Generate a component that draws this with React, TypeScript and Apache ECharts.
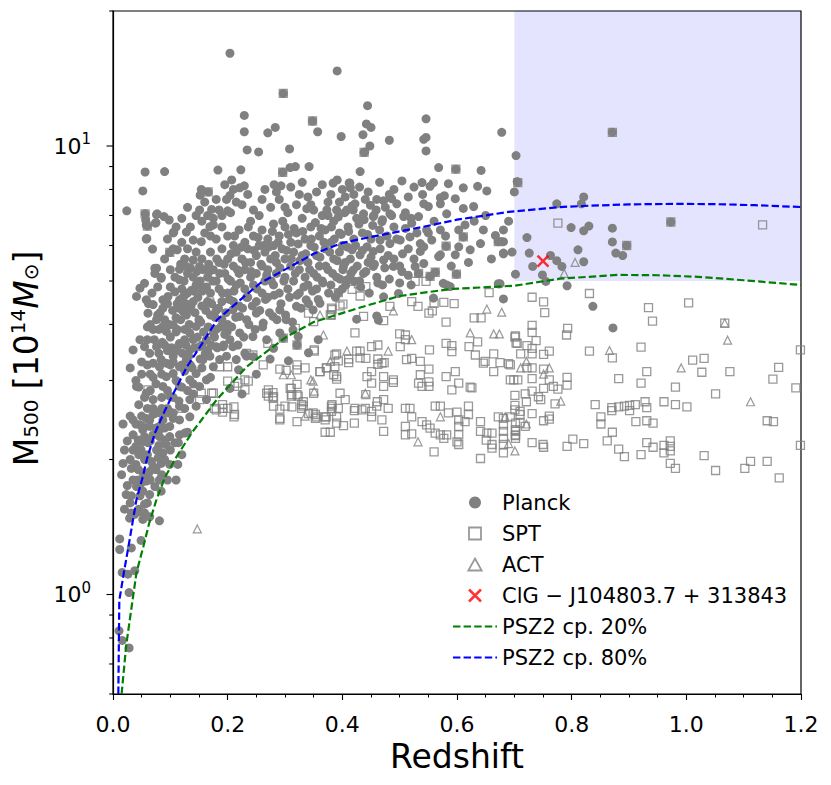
import React, { useEffect, useRef } from 'react';
import * as echarts from 'echarts';

// Planck clusters: [redshift, M500 (1e14 Msun)]
const planck: number[][] = [
  [0.204,16.1],[0.391,14.7],[0.297,13.1],[0.229,11.7],[0.229,10.76],[0.348,11.37],[0.283,11.0],[0.27,10.7],[0.357,10.76],[0.398,10.5],
  [0.444,12.3],[0.442,11.2],[0.45,11.0],[0.436,10.6],[0.234,9.8],[0.254,9.7],[0.308,9.85],[0.448,10.0],[0.439,9.7],[0.431,8.77],
  [0.056,8.75],[0.09,8.77],[0.052,7.94],[0.024,7.17],[0.183,8.84],[0.223,8.85],[0.207,8.4],[0.296,8.74],[0.309,8.95],[0.318,9.0],
  [0.342,9.0],[0.391,8.4],[0.384,8.27],[0.413,8.27],[0.281,8.2],[0.293,8.15],[0.154,8.0],[0.152,7.77],[0.166,7.9],[0.221,8.07],
  [0.229,8.15],[0.204,7.76],[0.198,7.6],[0.056,7.06],[0.06,6.63],[0.057,6.84],[0.077,7.06],[0.075,6.75],[0.089,6.96],[0.098,6.84],
  [0.106,6.43],[0.128,6.43],[0.059,6.22],[0.069,5.89],[0.099,5.79],[0.112,5.87],[0.116,5.31],[0.073,5.34],[0.084,5.1],[0.151,7.2],
  [0.172,7.22],[0.2,7.17],
  [0.482,10.3],[0.546,9.75],[0.438,9.68],[0.568,8.95],[0.598,8.88],[0.642,8.82],[0.504,8.36],[0.539,8.29],[0.559,8.29],[0.553,8.13],
  [0.585,8.24],[0.54,7.8],[0.571,7.67],[0.578,7.75],[0.611,8.07],[0.636,8.13],[0.652,7.94],[0.703,9.52],[0.705,8.33],[0.7,7.9],
  [0.472,7.55],[0.486,7.63],[0.495,7.43],[0.482,7.8],[0.405,7.7],[0.412,8.27],[0.414,8.07],[0.422,7.43],[0.419,7.2],[0.408,7.2],
  [0.449,7.38],[0.437,7.06],[0.454,6.96],[0.469,6.78],[0.483,7.06],[0.507,6.96],[0.521,6.73],[0.533,6.96],[0.542,7.43],[0.55,7.33],
  [0.571,7.43],[0.582,7.06],[0.597,7.63],[0.611,7.26],[0.629,7.33],[0.547,6.5],[0.571,6.5],[0.603,6.5],[0.614,6.67],[0.646,6.5],
  [0.667,6.32],[0.672,6.12],[0.681,6.5],[0.681,6.12],[0.641,6.06],[0.623,5.87],[0.603,5.96],[0.611,6.27],[0.681,5.77],[0.696,5.8],
  [0.702,5.18],[0.597,5.72],[0.581,5.98],[0.571,5.72],[0.542,5.96],[0.536,5.82],[0.556,6.17],[0.55,6.4],[0.568,5.67],[0.542,5.47],
  [0.527,5.39],[0.533,5.2],[0.553,5.12],[0.562,5.23],[0.599,5.18],[0.504,5.25],[0.489,5.39],[0.472,5.57],[0.454,5.82],[0.443,5.96],
  [0.431,5.72],[0.417,5.87],[0.483,6.06],[0.501,6.17],[0.518,6.27],[0.536,6.06],[0.466,6.17],[0.454,5.39],[0.437,5.2],[0.419,5.29],
  [0.402,5.39],[0.408,5.03],[0.576,4.94],[0.588,4.86],[0.675,4.93],
  [0.678,10.73],[0.546,11.5],[0.542,10.35],[0.546,10.45],
  [0.706,8.29],[0.774,7.43],[0.821,7.7],[0.817,7.43],[0.799,6.58],[0.821,6.47],[0.83,6.63],[0.722,6.25],[0.681,5.75],[0.726,5.77],
  [0.732,5.39],[0.763,5.7],[0.774,5.55],[0.783,5.39],[0.811,5.87],[0.821,5.52],[0.749,5.16],[0.755,4.99],[0.792,4.88],[0.871,10.73],
  [0.973,6.77],[0.871,6.11],[0.871,6.56],[0.896,6.0],[0.877,5.77],[0.889,5.7],[0.837,4.39],[0.872,3.93],
  [0.393,4.71],[0.46,4.18],[0.463,4.09],[0.425,4.11],[0.323,3.76],[0.297,3.73],[0.28,3.54],[0.341,3.46],[0.358,3.7],[0.23,3.45],
  [0.245,3.39],[0.274,3.35],[0.306,3.32],[0.25,3.1],[0.219,3.17],[0.225,2.8],[0.204,2.88],[0.321,3.6],[0.472,4.61],[0.498,4.69],
  [0.559,4.58],[0.582,4.9],[0.672,4.93],[0.681,4.56],
  [0.209,4.31],[0.221,4.17],[0.233,4.1],[0.25,4.24],[0.262,4.03],[0.279,4.17],[0.291,4.31],[0.302,4.1],[0.32,4.39],[0.337,4.54],
  [0.349,4.31],[0.361,4.46],[0.314,3.89],[0.291,3.83],[0.268,3.7],[0.244,3.76],[0.221,3.83],[0.209,3.57],[0.198,3.4],[0.215,3.34],
  [0.233,3.4],
  [0.076,7.03],[0.074,6.73],[0.058,6.67],[0.105,6.4],[0.058,6.2],[0.14,6.17],[0.154,6.12],[0.169,6.61],[0.175,6.67],
  [0.076,5.34],[0.073,5.2],[0.084,5.07],[0.055,4.94],[0.047,4.82],[0.041,4.62],[0.058,4.54],[0.07,4.43],[0.087,4.35],[0.061,4.24],
  [0.076,4.1],[0.087,3.96],[0.093,3.86],[0.105,3.99],[0.11,4.14],[0.122,4.28],[0.116,4.54],[0.125,4.65],[0.137,4.77],[0.108,4.73],
  [0.096,4.62],[0.087,4.54],[0.116,5.03],[0.128,5.39],[0.14,5.57],[0.151,5.39],
  [0.035,3.51],[0.047,3.7],[0.055,3.57],[0.064,3.45],[0.076,3.57],[0.084,3.34],[0.093,3.28],[0.105,3.4],[0.116,3.63],[0.125,3.7],
  [0.134,3.83],[0.145,3.96],[0.14,3.7],[0.134,3.51],[0.128,3.34],[0.116,3.22],[0.105,3.11],[0.093,3.06],[0.081,3.22],[0.07,3.28],
  [0.041,2.91],[0.058,2.81],[0.07,2.72],[0.087,2.91],[0.099,2.77],[0.116,2.91],[0.134,3.01],[0.145,3.11],[0.157,3.34],[0.169,3.4],
  [0.175,3.22],[0.163,3.01],[0.151,2.91],[0.134,2.72],[0.116,2.63],[0.105,2.54],[0.087,2.45],[0.076,2.54],[0.064,2.45],[0.052,2.37],
  [0.081,2.33],[0.099,2.37],[0.116,2.45],[0.134,2.49],[0.145,2.63],[0.163,2.72],[0.186,3.34],[0.192,3.57],[0.204,3.7],[0.18,3.57],
  [0.151,3.57],[0.163,3.7],[0.175,3.83],
  [0.0175,2.4],[0.035,2.27],[0.044,2.21],[0.052,2.19],[0.061,2.18],[0.04,2.14],[0.049,2.1],[0.07,2.27],[0.081,2.25],[0.09,2.21],
  [0.099,2.25],[0.093,2.16],[0.108,2.18],[0.116,2.27],[0.125,2.29],[0.114,2.18],[0.076,2.1],[0.087,2.07],[0.079,2.02],[0.067,1.98],
  [0.055,2.0],[0.07,1.93],[0.084,1.96],[0.099,1.95],[0.113,1.95],[0.0175,1.96],[0.032,1.91],[0.044,1.9],[0.052,1.87],[0.061,1.84],
  [0.064,1.88],[0.044,1.8],[0.049,1.77],[0.058,1.79],[0.041,1.74],[0.073,1.74],[0.081,1.8],[0.084,1.7],[0.11,1.8],[0.023,1.67],
  [0.032,1.66],[0.047,1.66],[0.052,1.7],[0.064,1.67],[0.032,1.52],[0.038,1.51],[0.047,1.53],[0.055,1.52],[0.064,1.49],[0.052,1.47],
  [0.029,1.48],[0.081,1.46],[0.055,1.59],[0.0117,1.33],[0.0117,1.26],[0.032,1.27],[0.049,1.32],[0.016,1.12],[0.026,1.11],[0.038,1.13],
  [0.028,1.01],[0.0105,0.83],[0.016,0.79],[0.028,0.76],[0.035,2.45],[0.047,2.39],[0.058,2.47],[0.07,2.52],[0.084,2.54],[0.096,2.54],
  [0.105,2.47],[0.081,2.37],[0.064,2.37],[0.052,2.33],
  [0.15,4.9],[0.155,5.6],[0.16,4.4],[0.16,6.4],[0.165,5.1],[0.17,4.7],[0.17,5.8],[0.175,5.3],[0.175,6.9],[0.18,4.3],
  [0.18,5.0],[0.18,6.2],[0.185,5.5],[0.185,4.8],[0.19,5.9],[0.19,4.5],[0.19,6.6],[0.195,5.2],[0.2,4.7],[0.2,5.6],
  [0.2,6.3],[0.205,5.0],[0.205,7.1],[0.21,4.5],[0.21,5.4],[0.21,6.0],[0.215,5.8],[0.215,4.9],[0.22,5.2],[0.22,6.5],
  [0.22,4.4],[0.225,5.6],[0.225,7.4],[0.23,4.8],[0.23,5.3],[0.23,6.1],[0.235,5.9],[0.235,4.6],[0.24,5.1],[0.24,6.8],
  [0.24,5.5],[0.245,4.9],[0.245,6.3],[0.25,5.7],[0.25,4.5],[0.25,5.2],[0.255,6.0],[0.255,7.0],[0.26,5.4],[0.26,4.7],
  [0.26,6.5],[0.265,5.0],[0.265,5.8],[0.27,6.2],[0.27,4.6],[0.27,5.3],[0.275,7.3],[0.275,5.6],[0.28,4.9],[0.28,6.0],
  [0.28,6.7],[0.285,5.2],[0.285,5.5],[0.29,4.7],[0.29,6.3],[0.29,7.6],[0.295,5.9],[0.3,5.1],[0.3,5.6],[0.3,6.6],
  [0.305,4.8],[0.305,7.1],[0.31,5.4],[0.31,6.1],[0.315,5.0],[0.315,5.8],[0.32,6.4],[0.32,7.4],[0.325,5.3],[0.325,4.7],
  [0.33,5.7],[0.33,6.9],[0.335,5.1],[0.335,6.2],[0.34,4.9],[0.34,5.5],[0.34,7.7],[0.345,6.0],[0.345,6.6],[0.35,5.2],
  [0.35,7.2],[0.355,5.7],[0.355,4.8],[0.36,6.3],[0.36,5.4],[0.365,7.0],[0.365,5.0],[0.37,5.9],[0.37,6.5],[0.375,5.3],
  [0.375,7.5],[0.38,4.9],[0.38,6.1],[0.385,5.6],[0.385,6.8],[0.39,5.1],[0.39,7.2],[0.395,5.8],[0.395,6.4],[0.4,4.8],
  [0.4,6.0],[0.405,5.5],[0.41,6.6],[0.415,5.2],[0.42,6.2],[0.425,6.9],[0.43,5.0],[0.435,6.4],[0.44,7.6],[0.445,5.5],
  [0.45,6.2],[0.455,7.0],[0.46,5.1],[0.465,6.5],[0.47,4.9],[0.475,7.3],[0.48,5.7],[0.49,6.6],[0.5,5.4],[0.51,7.1],
  [0.515,5.9],[0.52,4.9],[0.53,6.4],[0.56,6.8],[0.58,6.3],[0.59,5.4],[0.62,5.5],[0.63,6.8],[0.65,7.0],[0.66,5.6],
  [0.69,6.8],
  [0.215,7.5],[0.235,7.8],[0.245,7.2],[0.26,7.6],[0.265,8.0],[0.285,7.9],[0.3,7.3],[0.31,8.1],[0.325,7.8],[0.33,8.3],
  [0.345,7.4],[0.355,7.9],[0.365,8.2],[0.375,7.0],[0.38,7.8],[0.395,7.5],[0.4,8.0],[0.42,7.8],[0.43,8.1],[0.445,7.9],
  [0.46,7.6],[0.465,8.3],[0.49,8.0],[0.515,7.7],[0.525,8.1],
  [0.12,6.9],[0.13,7.3],[0.135,6.6],[0.145,7.0],[0.16,7.5],[0.165,7.0],[0.18,7.6],[0.185,7.2],[0.19,7.0],[0.195,8.2],
  [0.21,8.0],[0.12,6.1],[0.13,5.9],[0.145,5.8],[0.155,6.8],[0.17,6.3],[0.11,6.6],[0.095,6.2],[0.09,5.6],[0.1,5.3],
  [0.105,5.9],[0.125,5.6],[0.13,5.2],[0.14,5.1],[0.12,4.8],[0.13,4.3],[0.14,4.5],[0.145,4.9],[0.15,4.1],[0.155,4.4],
  [0.165,4.5],[0.17,4.2],[0.18,3.9],[0.19,4.1],[0.195,3.8],[0.2,4.0],[0.155,3.6],[0.165,3.5],[0.125,3.9],[0.115,3.6],
  [0.1,3.75],[0.095,3.5],[0.08,3.9],[0.07,3.9],[0.065,4.0],[0.06,3.7],[0.05,3.3],[0.065,3.1],[0.075,2.95],[0.085,2.75],
  [0.095,2.6],[0.06,2.6],[0.045,2.65],[0.04,3.0],[0.03,3.2],[0.03,2.5],[0.025,2.2],[0.02,2.1],[0.015,1.85],[0.035,1.8],
  [0.1,2.1],[0.12,2.05],[0.13,2.3],[0.125,2.6],[0.14,2.95],[0.155,3.2],[0.17,3.05],
  [0.105,3.3],[0.11,3.5],[0.112,3.9],[0.118,4.1],[0.12,3.25],[0.122,4.6],[0.127,3.6],[0.128,4.2],[0.132,3.4],[0.133,4.0],
  [0.136,4.4],[0.138,3.2],[0.142,3.55],[0.143,4.25],[0.147,3.75],[0.148,4.6],[0.152,3.35],[0.153,4.05],[0.156,4.75],[0.158,3.85],
  [0.161,3.45],[0.162,4.3],[0.166,3.95],[0.167,5.45],[0.171,3.6],[0.172,4.45],[0.174,5.0],[0.177,3.75],[0.178,4.15],[0.181,5.6],
  [0.182,3.55],[0.184,4.35],[0.186,5.2],[0.188,3.95],[0.191,4.7],[0.193,3.6],[0.194,5.45],[0.197,4.25],[0.199,3.85],[0.201,5.05],
  [0.203,4.55],[0.206,5.75],[0.207,3.95],[0.211,4.75],[0.212,6.3],[0.214,4.15],[0.217,5.3],[0.218,3.6],[0.222,4.95],[0.224,5.95],
  [0.226,4.35],[0.228,3.75],[0.231,5.5],[0.233,4.6],[0.236,6.6],[0.237,4.0],[0.241,5.25],[0.243,4.4],[0.246,5.85],[0.248,3.9],
  [0.251,4.8],[0.253,6.25],[0.256,4.3],[0.258,5.45],[0.261,3.95],[0.263,6.0],[0.266,4.55],[0.268,5.15],[0.271,5.95],[0.273,4.25],
  [0.276,5.0],[0.278,6.45],[0.281,4.65],[0.283,5.7],[0.286,4.1],[0.288,6.1],[0.291,5.35],[0.293,4.45],[0.296,6.8],[0.298,5.0],
  [0.301,4.2],[0.303,5.85],[0.306,6.35],[0.308,4.6],[0.311,5.6],[0.313,4.05],[0.316,6.55],[0.318,5.2],[0.321,4.65],[0.323,6.05],
  [0.326,5.55],[0.328,4.35],[0.331,6.45],[0.333,4.85],[0.336,5.75],[0.338,7.25],[0.341,4.45],[0.343,5.3],[0.346,6.2],[0.348,4.75],
  [0.351,5.95],[0.353,6.75],[0.356,5.1],[0.358,4.55],[0.361,5.65],[0.363,6.55],[0.366,4.95],[0.368,6.1],[0.371,5.4],[0.373,7.2],
  [0.376,4.7],[0.378,5.8],[0.381,6.6],[0.383,5.2],[0.386,6.2],[0.388,4.6],[0.391,5.55],[0.393,6.95],[0.396,5.05],[0.398,6.35],
  [0.401,5.3],[0.404,7.1],[0.406,4.9],[0.409,5.95],[0.411,6.45],[0.414,5.6],[0.417,7.35],[0.42,5.0],[0.423,6.0],[0.426,5.4],
  [0.429,6.7],[0.432,4.85],[0.435,5.85],[0.438,6.85],[0.441,5.25],[0.444,6.35],[0.447,4.7],[0.45,5.65],[0.453,6.65],[0.456,5.45],
  [0.459,7.2],[0.462,4.95],[0.466,5.9],[0.47,6.85],[0.474,5.35],[0.478,6.3],[0.482,5.05],[0.486,7.0],[0.49,5.6],[0.495,6.2],
  [0.5,4.95],[0.505,5.75],[0.51,6.55],[0.515,5.15],[0.52,6.9],[0.525,5.6],
  [0.02,1.55],[0.025,1.75],[0.03,2.0],[0.035,2.1],[0.04,2.4],[0.045,2.05],[0.05,2.5],[0.055,2.25],[0.06,2.05],[0.065,2.2],
  [0.07,2.6],[0.075,2.35],[0.08,2.15],[0.085,2.6],[0.09,2.35],[0.095,2.85],[0.1,2.55],[0.105,2.75],[0.11,3.0],[0.115,2.7],
  [0.12,2.9],[0.125,3.15],[0.13,2.85],[0.135,3.25],[0.14,2.8],[0.045,2.9],[0.05,3.1],[0.055,2.75],[0.06,3.25],[0.065,2.85],
  [0.07,3.05],[0.08,3.45],[0.085,3.1],[0.09,3.6],[0.1,3.25],[0.03,1.6],[0.04,1.95],[0.045,1.55],[0.06,1.6],[0.065,1.8],
  [0.075,1.9],[0.085,1.85],[0.09,2.0],[0.095,1.8],
  [0.062,4.45],[0.068,4.7],[0.078,4.85],[0.082,4.25],[0.09,4.1],[0.095,4.45],[0.1,4.85],[0.104,4.3],[0.108,5.1],[0.112,4.45],
  [0.118,5.45],[0.124,5.0],[0.13,4.7],[0.135,5.35],[0.141,4.75],[0.146,5.25],[0.152,5.0],[0.157,5.3],[0.163,4.85],[0.168,5.25],
  [0.06,3.95],[0.072,3.7],[0.078,4.2],[0.086,3.65],[0.098,4.0],[0.102,3.55],[0.11,3.85],[0.115,4.35],[0.121,3.45],[0.127,4.45]
];

// SPT clusters (open squares)
const spt: number[][] = [
  [0.731,4.6],[0.751,4.49],[0.753,4.25],[0.831,4.69],[0.934,4.36],[0.941,4.07],[1.004,4.47],[1.067,4.03],[0.731,3.98],[0.731,3.84],
  [0.793,3.92],[0.791,3.79],[0.701,3.75],[0.703,3.64],[0.722,3.59],[0.738,3.68],[0.711,3.44],[0.731,3.44],[0.751,3.43],[0.761,3.49],
  [0.731,3.54],[0.831,3.49],[0.871,3.37],[0.921,3.56],[1.011,3.33],[1.031,3.36],[0.693,3.25],[0.722,3.2],[0.731,3.2],[0.751,3.18],
  [0.931,3.14],[1.027,3.13],[1.076,3.14],[1.161,3.21],[1.199,3.51],[0.882,3.03],[0.921,2.96],[0.981,2.9],[1.051,2.8],[1.151,3.02],
  [1.191,2.89],[0.731,3.03],[0.761,3.01],[0.792,3.05],[0.792,2.93],[0.768,2.91],[0.776,2.87],[0.751,2.88],[0.693,3.01],[0.699,3.01],
  [0.706,3.01],[0.701,2.78],[0.719,2.8],[0.731,2.84],[0.742,2.76],[0.721,2.69],[0.746,2.72],[0.771,2.66],[0.841,2.65],[0.87,2.61],
  [0.87,2.57],[0.882,2.62],[0.892,2.63],[0.901,2.64],[0.901,2.57],[0.911,2.65],[0.928,2.69],[0.931,2.61],[0.961,2.69],[0.981,2.65],
  [1.001,2.62],[0.701,2.64],[0.701,2.58],[0.71,2.56],[0.71,2.52],[0.731,2.53],[0.761,2.5],[0.761,2.46],[0.751,2.44],[0.851,2.49],
  [0.851,2.4],[0.912,2.43],[0.931,2.44],[0.942,2.41],[1.141,2.44],[1.152,2.43],[0.71,2.41],[0.719,2.37],[0.702,2.33],[0.702,2.27],
  [0.702,2.23],[0.871,2.3],[0.731,2.18],[0.75,2.16],[0.751,2.13],[0.792,2.14],[0.802,2.22],[0.821,2.17],[0.862,2.2],[0.882,2.11],
  [0.892,2.03],[0.921,2.05],[0.931,2.18],[0.942,2.13],[0.961,2.15],[0.961,2.07],[0.972,2.2],[0.972,2.14],[0.972,2.09],[0.972,1.96],
  [0.981,1.91],[1.031,2.04],[1.051,1.89],[1.102,1.91],[1.112,1.98],[1.141,1.98],[1.162,1.82],[1.199,2.15],[0.776,6.73],[1.133,6.67],
  [0.428,4.93],[0.441,4.86],[0.417,4.79],[0.431,4.63],[0.527,4.99],[0.546,4.99],[0.656,4.71],[0.521,4.5],[0.532,4.39],[0.56,4.46],
  [0.577,4.48],[0.595,4.45],[0.551,4.24],[0.557,4.29],[0.401,4.44],[0.382,4.32],[0.379,4.2],[0.341,4.24],[0.35,4.06],[0.318,3.92],
  [0.437,4.17],[0.472,4.08],[0.581,4.05],[0.63,4.14],[0.642,4.14],[0.483,4.39],
  [0.422,3.83],[0.5,3.81],[0.51,3.79],[0.51,3.7],[0.501,3.57],[0.552,3.51],[0.581,3.63],[0.591,3.59],[0.591,3.48],[0.621,3.57],
  [0.636,3.66],[0.632,3.42],[0.664,3.44],[0.675,3.29],[0.702,3.77],[0.705,3.63],
  [0.351,3.49],[0.39,3.44],[0.393,3.32],[0.411,3.35],[0.411,3.29],[0.425,3.49],[0.431,3.49],[0.431,3.37],[0.441,3.36],[0.451,3.57],
  [0.462,3.6],[0.462,3.35],[0.462,3.26],[0.473,3.29],
  [0.262,3.25],[0.291,3.18],[0.302,3.16],[0.321,3.25],[0.321,3.17],[0.335,3.2],[0.361,3.14],[0.373,3.2],
  [0.385,3.09],[0.39,3.06],[0.39,3.02],[0.443,3.06],[0.451,3.14],[0.472,3.06],[0.472,2.91],[0.451,2.96],[0.489,3.01],[0.489,2.97],
  [0.469,3.28],[0.512,3.34],[0.521,3.36],
  [0.536,3.31],[0.551,3.18],[0.536,3.09],[0.533,2.96],[0.539,2.91],[0.551,2.98],[0.551,2.91],[0.581,3.06],[0.597,3.14],[0.591,2.86],
  [0.603,2.96],[0.623,2.9],[0.626,2.89],[0.649,3.31],[0.646,3.28],[0.664,3.14],[0.69,3.27],
  [0.271,2.86],[0.271,2.77],[0.28,2.76],[0.309,2.88],[0.312,2.79],[0.321,2.79],[0.321,2.94],[0.329,2.65],[0.329,2.6],[0.35,2.81],
  [0.28,2.63],[0.291,2.59],[0.3,2.63],[0.312,2.62],[0.291,2.45],[0.341,2.53],[0.353,2.52],[0.353,2.47],[0.321,2.43],
  [0.37,2.49],[0.37,2.45],[0.382,2.65],[0.382,2.6],[0.393,2.6],[0.396,2.81],[0.405,2.72],[0.39,2.49],[0.39,2.41],[0.402,2.38],
  [0.421,2.41],[0.421,2.57],[0.422,2.6],[0.434,2.58],[0.441,2.79],[0.44,2.6],[0.451,2.56],[0.451,2.49],[0.46,2.63],[0.461,2.69],
  [0.472,2.72],[0.48,2.6],[0.469,2.45],[0.472,2.31],[0.37,2.3],[0.379,2.3],
  [0.51,2.6],[0.518,2.6],[0.521,2.49],[0.51,2.37],[0.51,2.27],[0.521,2.28],[0.539,2.43],[0.547,2.39],[0.553,2.35],[0.562,2.29],
  [0.562,2.63],[0.571,2.63],[0.571,2.27],[0.582,2.27],[0.577,2.23],[0.585,2.54],[0.6,2.55],[0.603,2.45],[0.603,2.37],[0.603,2.27],
  [0.6,2.19],[0.603,2.16],[0.614,2.43],[0.62,2.63],[0.62,2.52],[0.641,2.43],[0.641,2.31],[0.652,2.29],[0.661,2.29],[0.651,2.21],
  [0.661,2.16],[0.661,2.12],[0.672,2.49],[0.681,2.47],[0.681,2.39],[0.681,2.31],[0.681,2.23],[0.681,2.16],[0.681,2.07],[0.693,2.49],
  [0.702,2.41],[0.702,2.31],[0.702,2.26],[0.641,2.01],[0.56,2.08],
  [0.381,4.35],[0.381,4.2],[0.396,4.4],[0.297,3.73],[0.27,3.63],[0.233,3.45],[0.244,3.42],[0.2,3.22],[0.186,3.22],[0.2,2.99],
  [0.218,2.96],[0.23,3.01],[0.236,2.99],[0.23,2.86],[0.212,2.91],[0.175,2.81],[0.154,2.81],[0.2,2.6],[0.212,2.52],[0.192,2.6],
  [0.18,2.58],[0.151,2.72],[0.268,2.81],[0.279,2.82],[0.279,2.74],[0.291,2.47],[0.311,2.88],[0.311,2.77],[0.323,2.77],[0.332,2.69],
  [0.332,2.63],[0.351,3.51],[0.361,3.14],[0.372,3.2],[0.387,3.42],[0.387,3.22],[0.381,2.63],[0.381,2.56],[0.372,2.49],[0.355,2.49],
  [0.349,2.54],[0.061,2.86],[0.172,2.81],[0.191,2.65],[0.191,2.55],[0.211,2.62],[0.211,2.49],[0.177,2.6],
  [0.056,7.06],[0.06,6.63],[0.099,5.79],[0.166,7.9],[0.297,13.1],[0.348,11.37],[0.296,8.74],[0.438,9.68],[0.598,8.88],[0.871,10.73],
  [0.706,8.29],[0.973,6.77],[0.896,6.0],[0.611,6.27],[0.672,6.12],[0.581,5.98],[0.533,5.2],[0.553,5.12],[0.562,5.23],[0.599,5.18],
  [0.393,4.71],[0.321,3.6]
];

// ACT clusters (open triangles)
const act: number[][] = [
  [0.147,1.4],[0.806,5.5],[0.787,5.2],[0.866,3.5],[1.072,3.69],[0.991,3.2],[1.112,2.69],[0.721,3.31],[0.711,3.2],[0.761,3.2],
  [0.751,3.1],[0.781,2.7],[0.721,2.4],[0.701,2.09],[1.067,4.03],[0.623,3.83],[0.664,3.81],[0.674,3.81],[0.521,3.7],[0.408,3.49],
  [0.48,3.49],[0.379,3.31],[0.297,3.09],[0.311,3.09],[0.345,3.01],[0.351,2.84],[0.335,2.5],[0.44,2.81],[0.532,2.19],[0.571,2.49],
  [0.69,2.17],[0.684,2.49],[0.169,4.65],[0.361,4.2],[0.367,3.79],[0.349,2.99],[0.119,2.6],[0.652,4.33],[0.678,4.26],[0.489,4.29]
];

// Highlighted cluster
const targetCluster: number[][] = [[0.75, 5.54]];

// PSZ2 completeness curves
const psz20: number[][] = [
  [0.015,0.6],[0.023,0.77],[0.031,0.91],[0.041,1.12],[0.053,1.28],[0.063,1.44],[0.076,1.63],[0.091,1.83],[0.111,2.03],[0.137,2.29],
  [0.181,2.72],[0.233,3.22],[0.303,3.76],[0.35,4.05],[0.43,4.36],[0.5,4.63],[0.59,4.8],[0.7,4.88],[0.78,5.06],[0.83,5.11],
  [0.88,5.16],[0.95,5.15],[1.02,5.11],[1.1,5.02],[1.2,4.9]
];
const psz80: number[][] = [
  [0.0093,0.6],[0.011,0.97],[0.019,1.12],[0.027,1.28],[0.033,1.42],[0.041,1.63],[0.052,1.83],[0.059,2.0],[0.073,2.29],[0.091,2.58],
  [0.1,2.72],[0.129,3.22],[0.152,3.57],[0.181,4.09],[0.222,4.54],[0.257,4.95],[0.309,5.38],[0.35,5.75],[0.4,6.08],[0.45,6.27],
  [0.54,6.6],[0.6,6.85],[0.69,7.13],[0.78,7.31],[0.83,7.36],[0.9,7.41],[0.98,7.43],[1.05,7.42],[1.12,7.38],[1.2,7.31]
];

// shaded high-z / high-mass region
const regionZ = [0.7, 1.2];
const regionM = [5.0, 20];

// axes
const xRange = [0, 1.2];
const xStep = 0.2;
const yRange = [0.6, 20];
const yMajorTicks = [1, 10];
const yMinorTicks = [0.6, 0.7, 0.8, 0.9, 2, 3, 4, 5, 6, 7, 8, 9, 20];

const names = {
  planck: 'Planck',
  spt: 'SPT',
  act: 'ACT',
  target: 'ClG − J104803.7 + 313843',
  c20: 'PSZ2 cp. 20%',
  c80: 'PSZ2 cp. 80%',
};

const GREY = '#808080';
const FONT = 'DejaVu Sans';
const CROSS = 'path://M0,0L10,10M10,0L0,10';
const SQUARE = 'path://M0,0L10,0L10,10L0,10Z';
const TRIANGLE = 'path://M5,0L10,9L0,9Z';
const DASH = [7.4, 3.2];

export default function App() {
  const ref = useRef<HTMLDivElement>(null);

  useEffect(() => {
    if (!ref.current) return;
    const chart = echarts.init(ref.current, undefined, { renderer: 'svg' });

    const tickData = yMajorTicks.map((v) => [0, v, 1]).concat(yMinorTicks.map((v) => [0, v, 0]));
    const hidden = { color: 'rgba(0,0,0,0)', borderColor: 'rgba(0,0,0,0)', borderWidth: 0 };

    const option: any = {
      animation: false,
      backgroundColor: '#ffffff',
      textStyle: { fontFamily: FONT, color: '#000' },
      grid: {
        left: 113, top: 11, width: 688, height: 683,
        show: true, borderColor: '#000', borderWidth: 1.2, backgroundColor: 'transparent',
      },
      legend: {
        orient: 'vertical',
        left: 452,
        top: 492,
        padding: 0,
        itemWidth: 44,
        itemHeight: 12,
        itemGap: 10,
        selectedMode: false,
        symbolKeepAspect: true,
        textStyle: { fontSize: 21, fontFamily: FONT, color: '#000', lineHeight: 21 },
        data: [
          { name: names.planck, icon: 'circle', itemStyle: { color: GREY, borderWidth: 0 } },
          { name: names.spt, icon: SQUARE, itemStyle: { color: 'rgba(0,0,0,0)', borderColor: GREY, borderWidth: 1.8 } },
          { name: names.act, icon: TRIANGLE, itemStyle: { color: 'rgba(0,0,0,0)', borderColor: GREY, borderWidth: 1.8 } },
          { name: names.target, icon: CROSS, itemStyle: { color: 'rgba(0,0,0,0)', borderColor: '#ff0000', borderWidth: 2.5 } },
          { name: names.c20, itemStyle: hidden },
          { name: names.c80, itemStyle: hidden },
        ],
      },
      xAxis: {
        type: 'value',
        min: xRange[0],
        max: xRange[1],
        interval: xStep,
        name: 'Redshift',
        nameLocation: 'middle',
        nameGap: 44,
        nameTextStyle: { fontSize: 33, fontFamily: FONT, color: '#000' },
        axisLine: { show: true, lineStyle: { color: '#000', width: 1.2 } },
        axisTick: { show: true, length: 6, lineStyle: { color: '#000', width: 1.1 } },
        minorTick: { show: true, splitNumber: 4, length: 3.5, lineStyle: { color: '#000', width: 1 } },
        splitLine: { show: false },
        minorSplitLine: { show: false },
        axisLabel: {
          fontSize: 22, fontFamily: FONT, color: '#000', margin: 19,
          formatter: (v: number) => v.toFixed(1),
        },
      },
      yAxis: {
        type: 'log',
        logBase: 10,
        min: yRange[0],
        max: yRange[1],
        name: '{a|M}{s|500}{a| [10}{p|14}{i|M}{s|⊙}{a|]}',
        nameLocation: 'middle',
        nameGap: 66,
        nameRotate: 90,
        nameTextStyle: {
          fontSize: 33, fontFamily: FONT, color: '#000',
          padding: [0, 12, 0, 0],
          rich: {
            a: { fontSize: 33, fontFamily: FONT, color: '#000' },
            i: { fontSize: 33, fontFamily: FONT, color: '#000', fontStyle: 'italic' },
            s: { fontSize: 20, fontFamily: FONT, color: '#000', padding: [10, 0, 0, 0] },
            p: { fontSize: 20, fontFamily: FONT, color: '#000', padding: [0, 0, 16, 0] },
          },
        },
        axisLine: { show: true, lineStyle: { color: '#000', width: 1.2 } },
        axisTick: { show: false },
        minorTick: { show: false },
        splitLine: { show: false },
        axisLabel: {
          margin: 22,
          showMinLabel: false,
          showMaxLabel: false,
          formatter: (v: number) => {
            const e = Math.log10(v);
            if (Math.abs(e - Math.round(e)) < 1e-6) return '{b|10}{p|' + Math.round(e) + '}';
            return '';
          },
          rich: {
            b: { fontSize: 22, fontFamily: FONT, color: '#000' },
            p: { fontSize: 15, fontFamily: FONT, color: '#000', padding: [0, 0, 14, 0] },
          },
        },
      },
      series: [
        {
          name: 'region',
          type: 'line',
          data: [],
          z: 1,
          silent: true,
          markArea: {
            silent: true,
            itemStyle: { color: 'rgba(0,0,255,0.105)' },
            data: [[{ coord: [regionZ[0], regionM[0]] }, { coord: [regionZ[1], regionM[1]] }]],
          },
        },
        {
          name: names.planck,
          type: 'scatter',
          data: planck,
          symbol: 'circle',
          symbolSize: 9,
          z: 2,
          itemStyle: { color: GREY, opacity: 1 },
          silent: true,
        },
        {
          name: names.spt,
          type: 'scatter',
          data: spt,
          symbol: 'rect',
          symbolSize: 8,
          z: 3,
          itemStyle: { color: 'rgba(0,0,0,0)', borderColor: GREY, borderWidth: 1.3 },
          silent: true,
        },
        {
          name: names.act,
          type: 'scatter',
          data: act,
          symbol: 'triangle',
          symbolSize: 8,
          z: 4,
          itemStyle: { color: 'rgba(0,0,0,0)', borderColor: GREY, borderWidth: 1.2 },
          silent: true,
        },
        {
          name: names.c20,
          type: 'line',
          data: psz20,
          symbol: 'none',
          z: 5,
          lineStyle: { color: '#008000', width: 2.2, type: DASH },
          itemStyle: { color: '#008000' },
          silent: true,
        },
        {
          name: names.c80,
          type: 'line',
          data: psz80,
          symbol: 'none',
          z: 5,
          lineStyle: { color: '#0000ff', width: 2.2, type: DASH },
          itemStyle: { color: '#0000ff' },
          silent: true,
        },
        {
          name: names.target,
          type: 'scatter',
          data: targetCluster,
          symbol: CROSS,
          symbolSize: 11,
          z: 6,
          itemStyle: { color: 'rgba(0,0,0,0)', borderColor: '#ff0000', borderWidth: 2.5 },
          silent: true,
        },
        {
          name: 'yticks',
          type: 'custom',
          data: tickData,
          clip: false,
          silent: true,
          z: 7,
          renderItem: (params: any, api: any) => {
            const v = api.value(1);
            const major = api.value(2) === 1;
            const p = api.coord([xRange[0], v]);
            const len = major ? 6.5 : 3.8;
            return {
              type: 'line',
              shape: { x1: p[0] - len, y1: p[1], x2: p[0], y2: p[1] },
              style: { stroke: '#000', lineWidth: 1.1 },
            };
          },
        },
      ],
    };

    chart.setOption(option);
    return () => chart.dispose();
  }, []);

  return (
    <div
      ref={ref}
      style={{ position: 'fixed', left: 0, top: 0, width: 831, height: 785, background: '#fff' }}
    />
  );
}
